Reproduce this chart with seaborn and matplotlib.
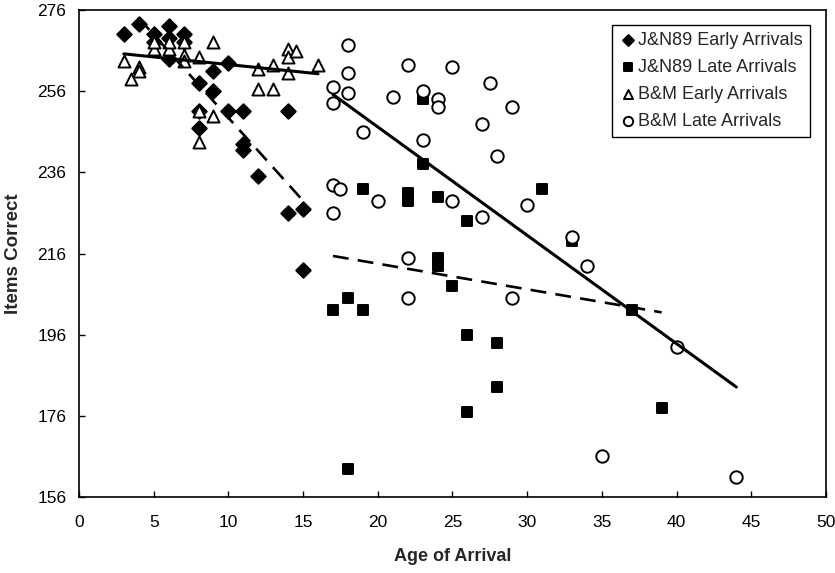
"""Items correct vs. age of arrival, early/late arrivals from J&N89 and B&M."""
import matplotlib
matplotlib.use('Agg')
import matplotlib.pyplot as plt
import seaborn as sns
import pandas as pd

# J&N89 early arrivals (diamonds)
jn_early_x = [3, 4, 5, 5, 6, 6, 6, 7, 7, 8, 8, 8, 9, 9, 10, 10, 11, 11, 11, 12, 14, 14, 15, 15]
jn_early_y = [270, 272.5, 270, 268, 272, 269, 264, 270, 268, 258, 251, 247, 261, 256,
              263, 251, 251, 243, 241.5, 235, 251, 226, 227, 212]

# J&N89 late arrivals (squares)
jn_late_x = [17, 18, 18, 19, 19, 22, 22, 23, 23, 24, 24, 24, 25, 26, 26, 26, 28, 28, 31, 33, 37, 39]
jn_late_y = [202, 205, 163, 232, 202, 231, 229, 254, 238, 230, 215, 213, 208, 224, 196,
             177, 194, 183, 232, 219, 202, 178]

# B&M early arrivals (triangles)
bm_early_x = [3, 3.5, 4, 4, 5, 5, 6, 6, 7, 7, 7, 8, 8, 8, 9, 9, 12, 12, 13, 13, 14, 14, 14, 14.5, 16]
bm_early_y = [263.5, 259, 262, 261, 266.5, 268, 266.5, 268, 268, 265, 263.5, 264.5, 251, 243.5,
              268, 250, 261.5, 256.5, 262.5, 256.5, 266.5, 264.5, 260.5, 266, 262.5]

# B&M late arrivals (circles)
bm_late_x = [17, 17, 17, 17, 17.5, 18, 18, 18, 19, 20, 21, 22, 22, 22, 23, 23, 24, 24, 25, 25,
             27, 27, 27.5, 28, 29, 29, 30, 33, 34, 35, 40, 44]
bm_late_y = [257, 253, 233, 226, 232, 267.5, 260.5, 255.5, 246, 229, 254.5, 262.5, 215, 205,
             256, 244, 254, 252, 262, 229, 248, 225, 258, 240, 252, 205, 228, 220, 213, 166,
             193, 161]

# regression lines as drawn in the figure (endpoints, data units)
jn_early_fit_x = [4, 15]
jn_early_fit_y = [274, 229]
bm_early_fit_x = [3, 16]
bm_early_fit_y = [265.2, 260.3]
jn_late_fit_x = [17, 39]
jn_late_fit_y = [215.4, 201.5]
bm_late_fit_x = [17, 44]
bm_late_fit_y = [255.2, 183.1]

x_ticks = list(range(0, 51, 5))
y_ticks = list(range(156, 277, 20))

sns.set_style('white')
plt.rcParams['font.family'] = ['Liberation Sans', 'DejaVu Sans']

fig = plt.figure(figsize=(8.35, 5.73), dpi=100)
ax = fig.add_axes([0.0946, 0.1326, 0.8946, 0.8499])

groups = [
    ('J&N89 Early Arrivals', jn_early_x, jn_early_y, 'D', 'black', 55),
    ('J&N89 Late Arrivals', jn_late_x, jn_late_y, 's', 'black', 50),
    ('B&M Early Arrivals', bm_early_x, bm_early_y, '^', 'white', 75),
    ('B&M Late Arrivals', bm_late_x, bm_late_y, 'o', 'white', 80),
]
for name, xs, ys, mk, fc, size in groups:
    df = pd.DataFrame({'age': xs, 'items': ys})
    sns.scatterplot(data=df, x='age', y='items', marker=mk, s=size, color=fc,
                    edgecolor='black', linewidth=1.4, label=name, ax=ax, zorder=3)

dash = (0, (6, 3.5))
sns.lineplot(x=jn_early_fit_x, y=jn_early_fit_y, color='black', lw=1.9,
             linestyle=dash, ax=ax, zorder=4)
sns.lineplot(x=bm_early_fit_x, y=bm_early_fit_y, color='black', lw=2.2, ax=ax, zorder=4)
sns.lineplot(x=jn_late_fit_x, y=jn_late_fit_y, color='black', lw=1.9,
             linestyle=dash, ax=ax, zorder=4)
sns.lineplot(x=bm_late_fit_x, y=bm_late_fit_y, color='black', lw=2.2, ax=ax, zorder=4)

ax.set_xlim(0, 50)
ax.set_ylim(156, 276)
ax.set_xticks(x_ticks)
ax.set_yticks(y_ticks)
ax.tick_params(axis='both', direction='in', length=4, width=1, colors='black',
               labelsize=12.5, bottom=True, left=True)
ax.tick_params(axis='x', pad=13)
ax.tick_params(axis='y', pad=9)
for sp in ax.spines.values():
    sp.set_visible(True)
    sp.set_color('black')
    sp.set_linewidth(1.2)

ax.set_xlabel('Age of Arrival', fontsize=13, fontweight='bold', labelpad=13)
ax.set_ylabel('Items Correct', fontsize=13.5, fontweight='bold', labelpad=11)

leg = ax.legend(loc='upper right', bbox_to_anchor=(810 / 835, 1 - 25 / 573),
                bbox_transform=fig.transFigure, borderaxespad=0, fontsize=13,
                frameon=True, fancybox=False, edgecolor='black', framealpha=1,
                handletextpad=0.05, handlelength=1.0, borderpad=0.4,
                labelspacing=0.55, markerscale=0.75)
leg.get_frame().set_linewidth(1.0)

fig.savefig('out.png', dpi=100)
